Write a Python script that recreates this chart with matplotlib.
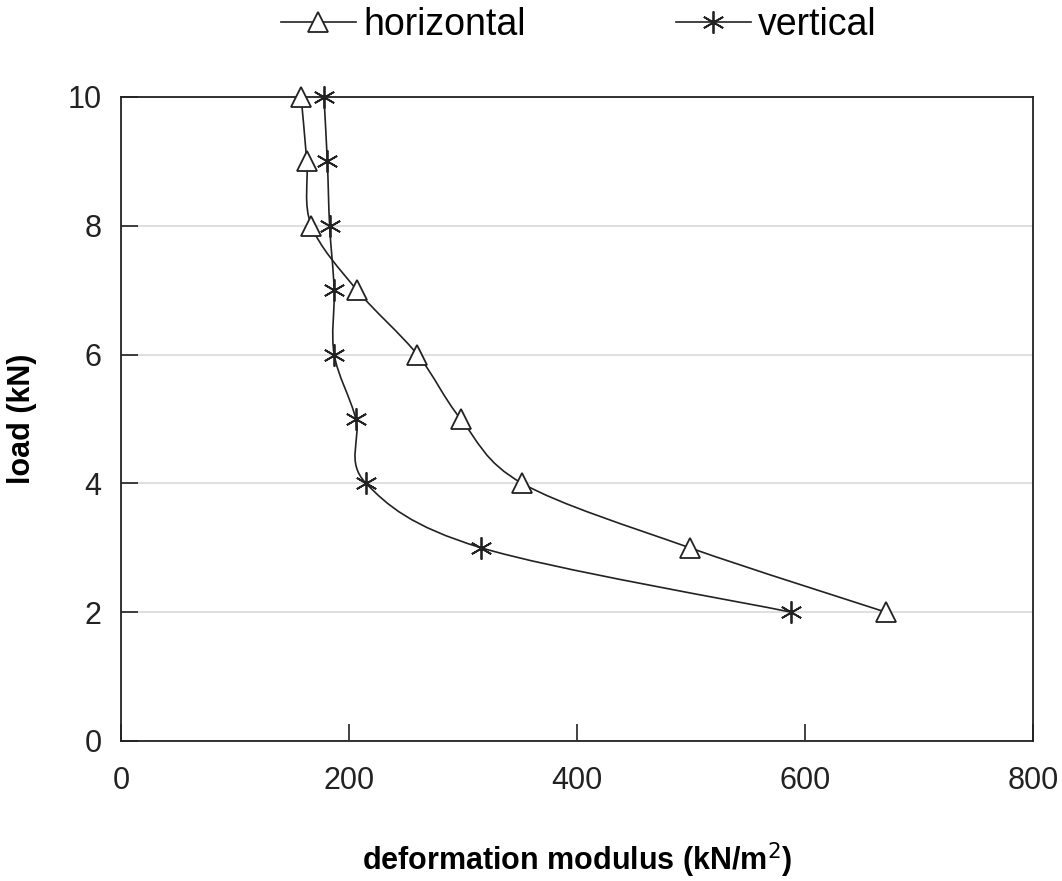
import matplotlib
matplotlib.use('Agg')
import matplotlib.pyplot as plt
from matplotlib.path import Path
from matplotlib.patches import PathPatch
from matplotlib.lines import Line2D
import numpy as np

plt.rcParams['font.family'] = ['Liberation Sans', 'DejaVu Sans']

load = [10, 9, 8, 7, 6, 5, 4, 3, 2]
horizontal = [158, 163, 167, 207, 260, 298, 352, 499, 671]
vertical = [178, 181, 183, 187, 187, 206, 215, 316, 588]


def smooth_path(xs, ys):
    # Catmull-Rom style bezier through the points (like a spreadsheet smoothed line)
    pts = np.column_stack([xs, ys]).astype(float)
    verts = [pts[0]]
    codes = [Path.MOVETO]
    n = len(pts)
    for i in range(n - 1):
        p0 = pts[i - 1] if i > 0 else pts[i]
        p1 = pts[i]
        p2 = pts[i + 1]
        p3 = pts[i + 2] if i + 2 < n else pts[i + 1]
        c1 = p1 + (p2 - p0) / 6.0
        c2 = p2 - (p3 - p1) / 6.0
        verts += [c1, c2, p2]
        codes += [Path.CURVE4] * 3
    return Path(verts, codes)


star = (6, 2, 0)

fig = plt.figure(figsize=(10.62, 8.81), dpi=100)
ax = fig.add_axes([121 / 1062, 1 - 741 / 881, 912 / 1062, 644 / 881])

for xs, mk in [(horizontal, '^'), (vertical, star)]:
    ax.add_patch(PathPatch(smooth_path(xs, load), facecolor='none', edgecolor='#222222', lw=1.2, zorder=2))
    ax.plot(xs, load, linestyle='none', marker=mk, markersize=14 if mk == '^' else 16,
            markerfacecolor='white', markeredgecolor='#222222', markeredgewidth=1.3,
            zorder=3, clip_on=False)

ax.set_xlim(0, 800)
ax.set_ylim(0, 10)
ax.set_xticks([0, 200, 400, 600, 800])
ax.set_yticks([0, 2, 4, 6, 8, 10])
ax.grid(axis='y', color='#d9d9d9', lw=1.2)
ax.set_axisbelow(True)
ax.tick_params(direction='in', length=12, width=1.2, labelsize=22, pad=14, colors='#222222')
ax.tick_params(axis='x', pad=18)
for s in ax.spines.values():
    s.set_linewidth(1.3)
    s.set_color('#222222')

ax.set_xlabel('deformation modulus (kN/m$^2$)', fontsize=22, fontweight='bold', labelpad=32)
ax.set_ylabel('load (kN)', fontsize=22, fontweight='bold', labelpad=22)

handles = [Line2D([], [], color='#222222', lw=1.2, marker='^', markersize=14,
                  markerfacecolor='white', markeredgewidth=1.3),
           Line2D([], [], color='#222222', lw=1.2, marker=star, markersize=16,
                  markeredgewidth=1.3)]
fig.legend(handles, ['horizontal', 'vertical'], loc='upper center', ncol=2,
           bbox_to_anchor=(0.545, 1.03), frameon=False, fontsize=27,
           columnspacing=4.0, handlelength=2.0, handletextpad=0.2)

fig.savefig('out.png', dpi=100)
